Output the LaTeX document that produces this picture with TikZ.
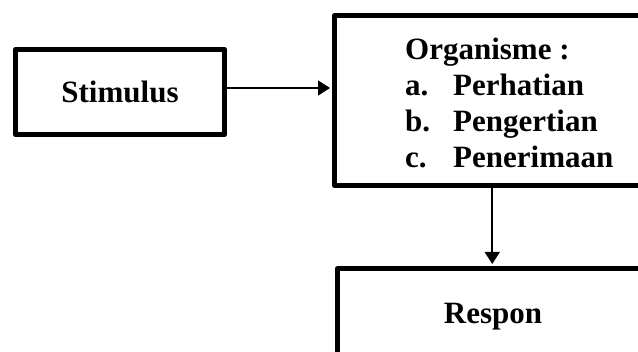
\documentclass[tikz,border=0pt]{standalone}
\usepackage{fontspec}
\setmainfont{Liberation Serif}
\usetikzlibrary{arrows.meta}
\begin{document}
\begin{tikzpicture}[x=1pt,y=-1pt,
  box/.style={draw=black,line width=5pt,line join=round,rectangle,inner sep=0pt,fill=white},
  txt/.style={font=\fontsize{31}{36}\selectfont\bfseries},
  arr/.style={line width=1.6pt,-{Triangle[length=12pt,width=15pt]},shorten >=2pt}]
\useasboundingbox (0,0) rectangle (638,352);
\clip (0,0) rectangle (638,352);
\fill[white] (0,0) rectangle (638,352);
\node[box,txt,minimum width=209pt,minimum height=85pt] (stim) at (120,92) {Stimulus};
\node[box,minimum width=315.5pt,minimum height=170pt] (org) at (492.25,100.5) {};
\node[txt,anchor=base west,inner sep=0pt] (orglist) at (405,60)
  {\begin{tabular}[t]{@{}l@{}}Organisme :\\
   \makebox[48pt][l]{a.}Perhatian\\
   \makebox[48pt][l]{b.}Pengertian\\
   \makebox[48pt][l]{c.}Penerimaan\end{tabular}};
\node[box,txt,minimum width=311pt,minimum height=97pt] (resp) at (493,317) {Respon};
\draw[arr] ([yshift=4pt]stim.east) -- ([yshift=4pt]stim.east -| org.west);
\draw[arr] (org.south) -- (org.south |- resp.north);
\end{tikzpicture}
\end{document}
